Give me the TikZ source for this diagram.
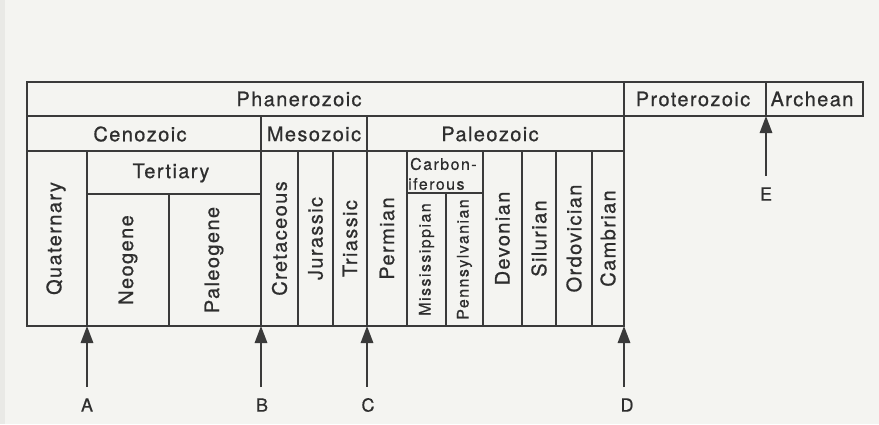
\documentclass[tikz,border=0pt]{standalone}
\usepackage{fontspec}
\usetikzlibrary{arrows.meta}
\newfontfamily\lblfont[LetterSpace=7,FakeBold=0.7]{TeX Gyre Heros}
\newfontfamily\smallfont[LetterSpace=9,FakeBold=0.6]{TeX Gyre Heros}
\newfontfamily\tagfont[FakeBold=0.6]{TeX Gyre Heros}
\definecolor{ink}{HTML}{2E2E2E}
\definecolor{rule}{HTML}{3A3A3A}
\definecolor{paper}{HTML}{F4F4F1}
\definecolor{edge}{HTML}{E9E9E6}
\begin{document}
\begin{tikzpicture}[x=1pt,y=-1pt,
  cell/.style={draw=rule, line width=1.6pt, inner sep=0pt, outer sep=0pt,
               minimum width=#1},
  big/.style={text=ink, inner sep=0pt, font=\fontsize{20}{21}\lblfont},
  bigv/.style={big, rotate=90},
  small/.style={text=ink, inner sep=0pt, font=\fontsize{16}{17}\smallfont},
  smallv/.style={small, rotate=90},
  tag/.style={text=ink, inner sep=0pt, font=\fontsize{18}{18}\tagfont},
  arr/.style={draw=rule, line width=1.5pt,
              -{Triangle[length=17pt,width=12.5pt]}, shorten <=11pt}]
% paper
\fill[paper] (0,0) rectangle (879,424);
\fill[edge] (0,0) rectangle (5,424);
\useasboundingbox (0,0) rectangle (879,424);

% cells: \cellbox{name}{x1}{y1}{x2}{y2}
\newcommand{\cellbox}[5]{%
  \node[cell=#4pt-#2pt, minimum height=#5pt-#3pt, anchor=north west]
    (#1) at (#2,#3) {};}

% eons
\cellbox{phan}{27}{82}{624}{116}
\cellbox{prot}{624}{82}{766}{116}
\cellbox{arch}{766}{82}{863}{116}
% eras
\cellbox{ceno}{27}{116}{261}{151}
\cellbox{meso}{261}{116}{367}{151}
\cellbox{paleo}{367}{116}{624}{151}
% periods
\cellbox{quat}{27}{151}{87}{326}
\cellbox{tert}{87}{151}{261}{194}
\cellbox{neog}{87}{194}{169}{326}
\cellbox{paleog}{169}{194}{261}{326}
\cellbox{cret}{261}{151}{298}{326}
\cellbox{jur}{298}{151}{333}{326}
\cellbox{tri}{333}{151}{367}{326}
\cellbox{perm}{367}{151}{407}{326}
\cellbox{carb}{407}{151}{483}{193}
\cellbox{miss}{407}{193}{446}{326}
\cellbox{penn}{446}{193}{483}{326}
\cellbox{dev}{483}{151}{522}{326}
\cellbox{sil}{522}{151}{556}{326}
\cellbox{ord}{556}{151}{592}{326}
\cellbox{camb}{592}{151}{624}{326}

% horizontal names
\node[big] (tPhan) at (299,99) {Phanerozoic};
\node[big] (tProt) at (693,99) {Proterozoic};
\node[big] (tArch) at (812,99) {Archean};
\node[big] (tCeno) at (140,134) {Cenozoic};
\node[big] (tMeso) at (314,134) {Mesozoic};
\node[big] (tPaleo) at (490,134) {Paleozoic};
\node[big] (tTert) at (171,173) {Tertiary};
\node[small, anchor=west] (tCarbA) at (410,164) {Carbon-};
\node[small, anchor=west] (tCarbB) at (408,184) {iferous};

% vertical names
\node[bigv] (tQuat) at ([xshift=-1pt]quat.center) {Quaternary};
\node[bigv] (tNeog) at (neog.center) {Neogene};
\node[bigv] (tPaleog) at ([xshift=-1pt]paleog.center) {Paleogene};
\node[bigv] (tCret) at (cret.center) {Cretaceous};
\node[bigv] (tJur) at (jur.center) {Jurassic};
\node[bigv] (tTri) at (tri.center) {Triassic};
\node[bigv] (tPerm) at (perm.center) {Permian};
\node[smallv] (tMiss) at (miss.center) {Mississippian};
\node[smallv] (tPenn) at (penn.center) {Pennsylvanian};
\node[bigv] (tDev) at (dev.center) {Devonian};
\node[bigv] (tSil) at (sil.center) {Silurian};
\node[bigv] (tOrd) at (ord.center) {Ordovician};
\node[bigv] (tCamb) at (camb.center) {Cambrian};

% boundary markers
\node[tag] (mA) at (87,405) {A};
\node[tag] (mB) at (262,405) {B};
\node[tag] (mC) at (368,405) {C};
\node[tag] (mD) at (627,405) {D};
\node[tag] (mE) at (766,194) {E};

% vertical pointers from each marker up to its boundary
\draw[arr] (quat.south east |- mA.north) -- (quat.south east);
\draw[arr] (paleog.south east |- mB.north) -- (paleog.south east);
\draw[arr] (tri.south east |- mC.north) -- (tri.south east);
\draw[arr] (camb.south east |- mD.north) -- (camb.south east);
\draw[arr] (arch.south west |- mE.north) -- (arch.south west);
\end{tikzpicture}
\end{document}
